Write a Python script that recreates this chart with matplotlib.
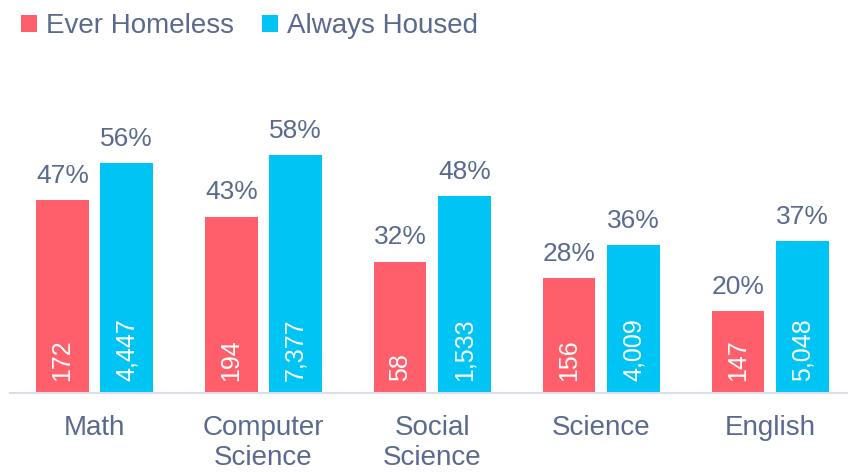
import matplotlib.pyplot as plt
import numpy as np

plt.rcParams['font.family'] = ['Liberation Sans', 'DejaVu Sans']

categories = ["Math", "Computer\nScience", "Social\nScience", "Science", "English"]
homeless_pct = [47, 43, 32, 28, 20]
housed_pct = [56, 58, 48, 36, 37]
homeless_n = ["172", "194", "58", "156", "147"]
housed_n = ["4,447", "7,377", "1,533", "4,009", "5,048"]

red = "#FF5F6B"
blue = "#00C4F4"
txt = "#5A6A8E"

fig = plt.figure(figsize=(8.48, 4.72), dpi=100)
ax = fig.add_axes([10 / 848, 79 / 472, 838 / 848, 287 / 472])

x = np.arange(len(categories))
w = 0.31
off = 0.19
b1 = ax.bar(x - off, homeless_pct, w, color=red, label="Ever Homeless")
b2 = ax.bar(x + off, housed_pct, w, color=blue, label="Always Housed")

for bars, pcts, ns in [(b1, homeless_pct, homeless_n), (b2, housed_pct, housed_n)]:
    for bar, p, n in zip(bars, pcts, ns):
        cx = bar.get_x() + bar.get_width() / 2
        ax.text(cx, p + 3.0, f"{p}%", ha="center", va="bottom", fontsize=19, color=txt)
        ax.text(cx, 3.0, n, ha="center", va="bottom", rotation=90, fontsize=18, color="white")

ax.set_xlim(-0.5, 4.46)
ax.set_ylim(0, 70)
ax.set_xticks(x)
ax.set_xticklabels(categories, fontsize=20, color=txt, linespacing=1.2)
ax.tick_params(axis="x", length=0, pad=16)
ax.set_yticks([])
for s in ["top", "right", "left"]:
    ax.spines[s].set_visible(False)
ax.spines["bottom"].set_color("#D9DEE8")
ax.spines["bottom"].set_linewidth(1.5)

leg = fig.legend(handles=[b1, b2], loc="upper left", bbox_to_anchor=(-0.005, 1.025), ncol=2,
                 frameon=False, fontsize=20, handlelength=0.6, handleheight=0.6,
                 handletextpad=0.3, columnspacing=1.0)
for t in leg.get_texts():
    t.set_color(txt)

fig.savefig("out.png", dpi=100)
